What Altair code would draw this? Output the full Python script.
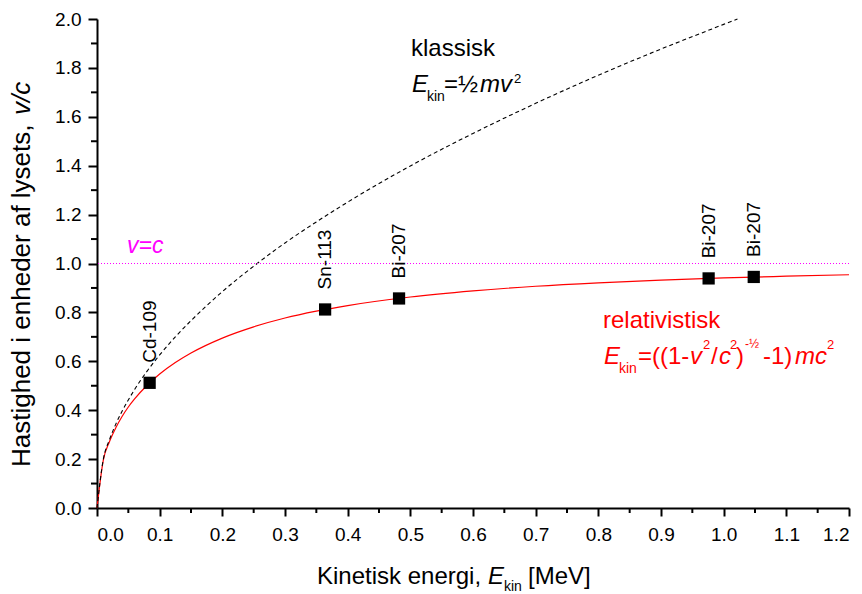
import altair as alt
import pandas as pd

FONT = "Liberation Sans"

# ---------------- data ----------------
# relativistic curve: kinetic energy [MeV] and v/c
rel_energy = [0.0, 0.01, 0.02, 0.03, 0.04, 0.05, 0.06, 0.08, 0.10, 0.125, 0.15, 0.20,
              0.25, 0.30, 0.35, 0.40, 0.50, 0.60, 0.70, 0.80, 0.90, 1.00, 1.10, 1.20]
rel_v = [0.0, 0.195, 0.272, 0.328, 0.374, 0.413, 0.446, 0.502, 0.548, 0.595, 0.634, 0.695,
         0.741, 0.777, 0.805, 0.828, 0.863, 0.888, 0.907, 0.921, 0.932, 0.941, 0.948, 0.954]

# classical curve
cls_energy = [0.0, 0.01, 0.02, 0.03, 0.04, 0.05, 0.06, 0.08, 0.10, 0.125, 0.15, 0.20,
              0.25, 0.30, 0.35, 0.40, 0.50, 0.60, 0.70, 0.80, 0.90, 1.00, 1.022]
cls_v = [0.0, 0.198, 0.280, 0.343, 0.396, 0.442, 0.485, 0.560, 0.626, 0.700, 0.766, 0.885,
         0.989, 1.084, 1.170, 1.251, 1.399, 1.532, 1.655, 1.770, 1.877, 1.978, 2.000]

# measured sources
src_name = ["Cd-109", "Sn-113", "Bi-207", "Bi-207", "Bi-207"]
src_energy = [0.084, 0.364, 0.482, 0.976, 1.048]
src_v = [0.512, 0.812, 0.857, 0.939, 0.945]

x_ticks = [0.0, 0.1, 0.2, 0.3, 0.4, 0.5, 0.6, 0.7, 0.8, 0.9, 1.0, 1.1, 1.2]
x_minor = [0.05, 0.15, 0.25, 0.35, 0.45, 0.55, 0.65, 0.75, 0.85, 0.95, 1.05, 1.15]
y_ticks = [0.0, 0.2, 0.4, 0.6, 0.8, 1.0, 1.2, 1.4, 1.6, 1.8, 2.0]
y_minor = [0.1, 0.3, 0.5, 0.7, 0.9, 1.1, 1.3, 1.5, 1.7, 1.9]
light_speed = [1.0]

# ---------------- layout ----------------
LEFT, TOP = 97, 19
W, H = 752, 489

rel_df = pd.DataFrame({"E": rel_energy, "v": rel_v})
cls_df = pd.DataFrame({"E": cls_energy, "v": cls_v})
src_df = pd.DataFrame({"name": src_name, "E": src_energy, "v": src_v})
xm_df = pd.DataFrame({"E": x_minor})
ym_df = pd.DataFrame({"v": y_minor})
c_df = pd.DataFrame({"v": light_speed})

xs = alt.Scale(domain=[0, 1.2], nice=False, zero=False)
ys = alt.Scale(domain=[0, 2.0], nice=False, zero=False)

xaxis = alt.Axis(values=x_ticks, format=".1f", title=None, grid=False,
                 tickSize=8, labelPadding=9)
yaxis = alt.Axis(values=y_ticks, format=".1f", title=None, grid=False,
                 tickSize=9, labelPadding=7)

rel_line = alt.Chart(rel_df).mark_line(color="#ff0000", strokeWidth=1.2,
                                       interpolate="monotone").encode(
    x=alt.X("E:Q", scale=xs, axis=xaxis),
    y=alt.Y("v:Q", scale=ys, axis=yaxis),
)

cls_line = alt.Chart(cls_df).mark_line(color="black", strokeWidth=1.1,
                                       strokeDash=[4, 3],
                                       interpolate="monotone").encode(
    x=alt.X("E:Q", scale=xs),
    y=alt.Y("v:Q", scale=ys),
)

c_rule = alt.Chart(c_df).mark_rule(color="#ff00ff", strokeWidth=1,
                                   strokeDash=[1, 2]).encode(
    y=alt.Y("v:Q", scale=ys),
)

points = alt.Chart(src_df).mark_square(size=150, color="black", opacity=1,
                                       filled=True).encode(
    x=alt.X("E:Q", scale=xs),
    y=alt.Y("v:Q", scale=ys),
)

point_labels = alt.Chart(src_df).transform_calculate(
    ly="datum.v + 0.082"
).mark_text(angle=270, align="left", baseline="middle", fontSize=19,
            font=FONT, color="black").encode(
    x=alt.X("E:Q", scale=xs),
    y=alt.Y("ly:Q", scale=ys),
    text="name:N",
)

x_minor_ticks = alt.Chart(xm_df).mark_rule(color="black", strokeWidth=2).encode(
    x=alt.X("E:Q", scale=xs),
    y=alt.value(H),
    y2=alt.value(H + 5),
)

y_minor_ticks = alt.Chart(ym_df).mark_rule(color="black", strokeWidth=2).encode(
    y=alt.Y("v:Q", scale=ys),
    x=alt.value(0),
    x2=alt.value(-6),
)


def txt(s, x, y, size, italic=False, color="black", angle=0,
        align="left", baseline="alphabetic"):
    return alt.Chart(alt.Data(values=[{}])).mark_text(
        text=s, fontSize=size, fontStyle="italic" if italic else "normal",
        color=color, angle=angle, align=align, baseline=baseline, font=FONT,
    ).encode(x=alt.value(x - LEFT), y=alt.value(y - TOP))


RED = "#ff0000"
annotations = [
    # axis titles
    txt("Kinetisk energi,", 317, 584, 24),
    txt("E", 488, 584, 24, italic=True),
    txt("kin", 504, 591, 14),
    txt("[MeV]", 528, 584, 24),
    txt("Hastighed i enheder af lysets,", 30, 467, 26, angle=270),
    txt("v/c", 30, 115, 26, italic=True, angle=270),
    # v = c
    txt("v=c", 127, 253, 23, italic=True, color="#ff00ff"),
    # classical
    txt("klassisk", 411, 56, 24),
    txt("E", 412, 92, 24, italic=True),
    txt("kin", 427, 101, 14),
    txt("=½", 444, 92, 24),
    txt("mv", 480, 92, 24, italic=True),
    txt("2", 514, 83, 13),
    # relativistic
    txt("relativistisk", 603, 328, 24, color=RED),
    txt("E", 604, 364, 24, italic=True, color=RED),
    txt("kin", 619, 373, 14, color=RED),
    txt("=((1-", 638, 364, 24, color=RED),
    txt("v", 690, 364, 24, italic=True, color=RED),
    txt("2", 703, 349, 13, color=RED),
    txt("/", 711, 364, 24, color=RED),
    txt("c", 719, 364, 24, italic=True, color=RED),
    txt("2", 730, 349, 13, color=RED),
    txt(")", 736, 364, 24, color=RED),
    txt("-½", 745, 348, 12, color=RED),
    txt("-1)", 763, 364, 24, color=RED),
    txt("mc", 795, 364, 24, italic=True, color=RED),
    txt("2", 827, 349, 13, color=RED),
]

chart = alt.layer(
    rel_line, cls_line, c_rule, x_minor_ticks, y_minor_ticks,
    points, point_labels, *annotations
).properties(
    width=W, height=H,
    autosize=alt.AutoSizeParams(type="none"),
    padding={"left": LEFT, "top": TOP, "right": 862 - LEFT - W, "bottom": 594 - TOP - H},
    background="white",
).configure_view(
    stroke=None
).configure_axis(
    domainColor="black", domainWidth=2, tickColor="black", tickWidth=2,
    labelColor="black", labelFont=FONT, labelFontSize=19,
)

chart.save("out.html", embed_options={"renderer": "svg", "actions": False})
